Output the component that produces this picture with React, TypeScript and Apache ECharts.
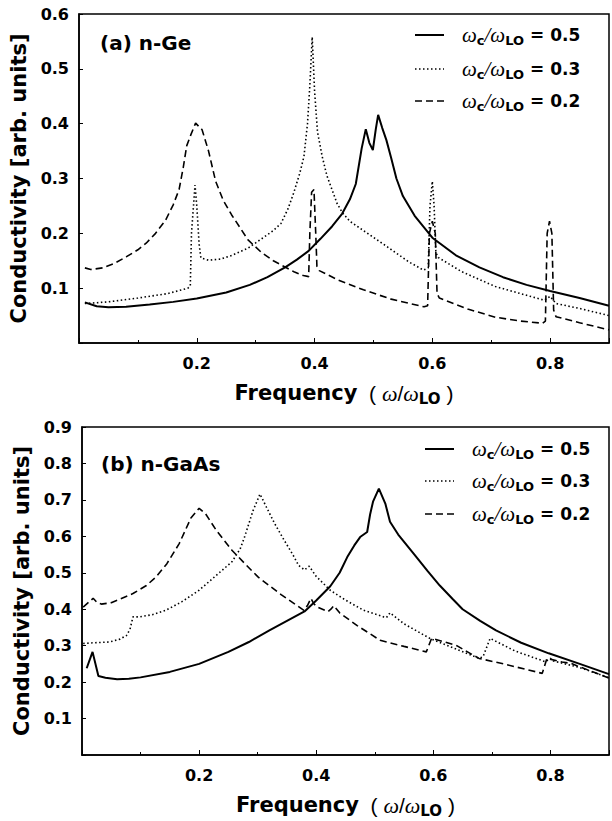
import React, { useEffect, useRef } from "react";
import * as echarts from "echarts";

// ---------- data: panel (a) n-Ge ----------
const geSolid05: number[][] = [
  [0.01, 0.074], [0.03, 0.067], [0.05, 0.065], [0.08, 0.066], [0.12, 0.07], [0.16, 0.075],
  [0.2, 0.081], [0.25, 0.092], [0.29, 0.106], [0.32, 0.12], [0.35, 0.138], [0.37, 0.152],
  [0.39, 0.168], [0.41, 0.19], [0.43, 0.213], [0.447, 0.236], [0.46, 0.262], [0.47, 0.29],
  [0.48, 0.355], [0.487, 0.39], [0.493, 0.365], [0.499, 0.352], [0.504, 0.39], [0.508, 0.416],
  [0.515, 0.392], [0.522, 0.37], [0.53, 0.338], [0.539, 0.3], [0.55, 0.268], [0.57, 0.232],
  [0.6, 0.192], [0.64, 0.16], [0.68, 0.138], [0.72, 0.12], [0.76, 0.106], [0.8, 0.095],
  [0.85, 0.082], [0.9, 0.068],
];
const geDot03: number[][] = [
  [0.01, 0.072], [0.05, 0.075], [0.1, 0.082], [0.15, 0.09], [0.185, 0.1], [0.189, 0.104],
  [0.191, 0.2], [0.197, 0.288], [0.2, 0.25], [0.204, 0.18], [0.207, 0.155], [0.22, 0.151],
  [0.24, 0.153], [0.26, 0.16], [0.287, 0.173], [0.31, 0.19], [0.33, 0.205], [0.343, 0.218],
  [0.355, 0.245], [0.365, 0.275], [0.375, 0.31], [0.382, 0.34], [0.388, 0.4], [0.392, 0.47],
  [0.396, 0.558], [0.4, 0.46], [0.405, 0.385], [0.413, 0.34], [0.421, 0.305], [0.438, 0.255],
  [0.447, 0.238], [0.46, 0.222], [0.483, 0.205], [0.52, 0.178], [0.56, 0.148], [0.585, 0.133],
  [0.593, 0.137], [0.596, 0.25], [0.6, 0.295], [0.603, 0.25], [0.606, 0.165], [0.61, 0.156],
  [0.65, 0.13], [0.707, 0.103], [0.75, 0.09], [0.79, 0.078], [0.8, 0.085], [0.81, 0.072],
  [0.85, 0.063], [0.9, 0.05],
];
const geDash02: number[][] = [
  [0.01, 0.137], [0.02, 0.134], [0.04, 0.137], [0.06, 0.145], [0.08, 0.157], [0.1, 0.17],
  [0.114, 0.182], [0.13, 0.2], [0.147, 0.224], [0.16, 0.252], [0.17, 0.28], [0.177, 0.32],
  [0.183, 0.36], [0.19, 0.38], [0.198, 0.401], [0.209, 0.389], [0.22, 0.35], [0.232, 0.295],
  [0.245, 0.26], [0.259, 0.234], [0.287, 0.188], [0.31, 0.165], [0.33, 0.15], [0.349, 0.139],
  [0.365, 0.13], [0.381, 0.123], [0.39, 0.121], [0.392, 0.2], [0.395, 0.275], [0.399, 0.28],
  [0.402, 0.2], [0.404, 0.14], [0.408, 0.132], [0.44, 0.115], [0.483, 0.097], [0.53, 0.08],
  [0.586, 0.066], [0.592, 0.068], [0.595, 0.2], [0.6, 0.222], [0.605, 0.2], [0.608, 0.09],
  [0.612, 0.082], [0.66, 0.062], [0.707, 0.047], [0.75, 0.04], [0.787, 0.036], [0.792, 0.04],
  [0.795, 0.2], [0.799, 0.222], [0.803, 0.2], [0.806, 0.06], [0.81, 0.048], [0.85, 0.037],
  [0.9, 0.024],
];

// ---------- data: panel (b) n-GaAs ----------
const gaSolid05: number[][] = [
  [0.008, 0.238], [0.018, 0.283], [0.028, 0.217], [0.04, 0.212], [0.06, 0.208], [0.08, 0.209],
  [0.1, 0.213], [0.15, 0.228], [0.2, 0.25], [0.25, 0.283], [0.285, 0.31], [0.32, 0.342],
  [0.35, 0.368], [0.38, 0.394], [0.4, 0.424], [0.424, 0.463], [0.44, 0.5], [0.453, 0.543],
  [0.465, 0.575], [0.475, 0.598], [0.487, 0.612], [0.492, 0.66], [0.497, 0.695], [0.507, 0.731],
  [0.518, 0.69], [0.526, 0.64], [0.54, 0.605], [0.566, 0.553], [0.59, 0.505], [0.611, 0.465],
  [0.633, 0.428], [0.65, 0.4], [0.68, 0.368], [0.707, 0.342], [0.75, 0.308], [0.797, 0.279],
  [0.85, 0.25], [0.9, 0.222],
];
const gaDot03: number[][] = [
  [0.002, 0.306], [0.02, 0.308], [0.047, 0.31], [0.065, 0.318], [0.076, 0.328], [0.082, 0.345],
  [0.087, 0.379], [0.098, 0.379], [0.12, 0.385], [0.143, 0.397], [0.17, 0.42], [0.2, 0.452],
  [0.233, 0.498], [0.256, 0.53], [0.27, 0.565], [0.278, 0.6], [0.292, 0.67], [0.304, 0.716],
  [0.315, 0.68], [0.329, 0.635], [0.345, 0.59], [0.36, 0.55], [0.37, 0.52], [0.38, 0.508],
  [0.388, 0.518], [0.4, 0.49], [0.424, 0.452], [0.45, 0.425], [0.481, 0.397], [0.515, 0.379],
  [0.52, 0.377], [0.526, 0.39], [0.55, 0.36], [0.594, 0.32], [0.64, 0.29], [0.678, 0.265],
  [0.685, 0.27], [0.697, 0.32], [0.74, 0.285], [0.791, 0.256], [0.8, 0.265], [0.805, 0.258],
  [0.85, 0.24], [0.9, 0.212],
];
const gaDash02: number[][] = [
  [0.002, 0.406], [0.012, 0.42], [0.019, 0.43], [0.026, 0.418], [0.033, 0.414], [0.05, 0.418],
  [0.087, 0.443], [0.11, 0.465], [0.126, 0.488], [0.145, 0.525], [0.166, 0.58], [0.186, 0.65],
  [0.2, 0.677], [0.211, 0.662], [0.23, 0.615], [0.256, 0.562], [0.28, 0.522], [0.301, 0.488],
  [0.34, 0.44], [0.379, 0.397], [0.385, 0.41], [0.391, 0.43], [0.396, 0.415], [0.402, 0.406],
  [0.42, 0.393], [0.425, 0.4], [0.43, 0.41], [0.44, 0.39], [0.47, 0.355], [0.509, 0.315],
  [0.55, 0.298], [0.588, 0.283], [0.597, 0.32], [0.62, 0.31], [0.64, 0.3], [0.678, 0.265],
  [0.72, 0.25], [0.786, 0.224], [0.794, 0.265], [0.82, 0.255], [0.836, 0.251], [0.845, 0.245],
  [0.9, 0.211],
];

const legendValues = ["0.5", "0.3", "0.2"];
const panelLabels = ["(a) n-Ge", "(b) n-GaAs"];
const yTitle = "Conductivity [arb. units]";

const SANS = "'DejaVu Sans', sans-serif";
const SERIF = "'Liberation Serif', serif";

const lineStyles = [
  { width: 2, type: "solid" as any },
  { width: 1.6, type: [1.5, 2.5] as any },
  { width: 1.6, type: [7, 4] as any },
];

export default function App() {
  const ref = useRef<HTMLDivElement>(null);
  useEffect(() => {
    if (!ref.current) return;
    const chart = echarts.init(ref.current, undefined, { renderer: "svg" });

    const legRich = {
      w: { fontFamily: SERIF, fontStyle: "italic", fontSize: 21, lineHeight: 24, verticalAlign: "middle", color: "#000" },
      s: { fontFamily: SANS, fontWeight: "bold", fontSize: 13, lineHeight: 11, verticalAlign: "bottom", color: "#000" },
      b: { fontFamily: SANS, fontWeight: "bold", fontSize: 17, lineHeight: 24, verticalAlign: "middle", color: "#000" },
    };
    const nameRich = {
      b: { fontFamily: SANS, fontWeight: "bold", fontSize: 21, lineHeight: 26, verticalAlign: "middle", color: "#000" },
      n: { fontFamily: "'Liberation Sans', sans-serif", fontSize: 21, lineHeight: 26, verticalAlign: "middle", color: "#000" },
      w: { fontFamily: SERIF, fontStyle: "italic", fontSize: 22, lineHeight: 26, verticalAlign: "middle", color: "#000" },
      s: { fontFamily: SANS, fontWeight: "bold", fontSize: 15, lineHeight: 14, verticalAlign: "bottom", color: "#000" },
    };

    const grids = [
      { left: 79, right: -3, top: 14, height: 329 },
      { left: 82, right: -2, top: 427, height: 328 },
    ];
    const yMax = [0.6, 0.9];

    const xAxes = grids.map((_, i) => ({
      type: "value",
      gridIndex: i,
      min: 0,
      max: 0.9,
      interval: 0.2,
      name: "{b|Frequency}{n|  ( }{w|ω}{n|/}{w|ω}{s|LO}{n| )}",
      nameLocation: "middle",
      nameGap: 37,
      nameTextStyle: { rich: nameRich },
      axisLine: { show: true, lineStyle: { color: "#000", width: 1.5 } },
      axisTick: { show: true, inside: true, length: 5, lineStyle: { color: "#000" } },
      minorTick: { show: true, splitNumber: 2, length: 3, lineStyle: { color: "#000" } },
      splitLine: { show: false },
      axisLabel: {
        margin: 12,
        fontFamily: SANS,
        fontWeight: "bold",
        fontSize: 16,
        color: "#000",
        formatter: (v: number) => (v < 0.05 || v > 0.85 ? "" : v.toFixed(1)),
      },
    }));

    const yAxes = grids.map((_, i) => ({
      type: "value",
      gridIndex: i,
      min: 0,
      max: yMax[i],
      interval: 0.1,
      name: yTitle,
      nameLocation: "middle",
      nameGap: 47,
      nameTextStyle: { fontFamily: SANS, fontWeight: "bold", fontSize: 21, color: "#000" },
      axisLine: { show: true, lineStyle: { color: "#000", width: 1.5 } },
      axisTick: { show: true, inside: true, length: 4, lineStyle: { color: "#000" } },
      splitLine: { show: false },
      axisLabel: {
        margin: 10,
        fontFamily: SANS,
        fontWeight: "bold",
        fontSize: 16,
        color: "#000",
        formatter: (v: number) => (v < 0.05 ? "" : v.toFixed(1)),
      },
    }));

    const dataSets = [
      [geSolid05, geDot03, geDash02],
      [gaSolid05, gaDot03, gaDash02],
    ];
    const series: any[] = [];
    dataSets.forEach((set, gi) => {
      set.forEach((d, si) => {
        series.push({
          type: "line",
          name: `p${gi}s${si}`,
          xAxisIndex: gi,
          yAxisIndex: gi,
          data: d,
          showSymbol: false,
          symbol: "none",
          smooth: false,
          lineStyle: { color: "#000", width: lineStyles[si].width, type: lineStyles[si].type },
        });
      });
    });

    const legendPos = [
      { x1: 415, x2: 444, tx: 462, ys: [35, 69, 101] },
      { x1: 425, x2: 454, tx: 472, ys: [449, 481, 514] },
    ];
    const graphic: any[] = [];
    legendPos.forEach((lp, gi) => {
      legendValues.forEach((val, si) => {
        graphic.push({
          type: "line",
          shape: { x1: lp.x1, y1: lp.ys[si], x2: lp.x2, y2: lp.ys[si] },
          style: { stroke: "#000", lineWidth: lineStyles[si].width, lineDash: si === 0 ? null : lineStyles[si].type },
        });
        graphic.push({
          type: "text",
          x: lp.tx,
          y: lp.ys[si],
          style: {
            text: `{w|ω}{s|c}{w|/ω}{s|LO}{b| = ${val}}`,
            rich: legRich,
            verticalAlign: "middle",
            align: "left",
          },
        });
      });
    });
    const labelPos = [
      { x: 100, y: 43 },
      { x: 101, y: 464 },
    ];
    panelLabels.forEach((t, i) => {
      graphic.push({
        type: "text",
        x: labelPos[i].x,
        y: labelPos[i].y,
        style: {
          text: t,
          font: `bold 20px ${SANS}`,
          fill: "#000",
          verticalAlign: "middle",
          align: "left",
        },
      });
    });

    chart.setOption({
      animation: false,
      backgroundColor: "#fff",
      grid: grids.map((g) => ({ ...g, show: true, borderColor: "#000", borderWidth: 1.5, backgroundColor: "transparent" })),
      xAxis: xAxes,
      yAxis: yAxes,
      series,
      graphic,
    } as any);

    return () => chart.dispose();
  }, []);

  return (
    <div
      ref={ref}
      style={{ position: "absolute", left: 0, top: 0, width: 612, height: 821 }}
    />
  );
}
